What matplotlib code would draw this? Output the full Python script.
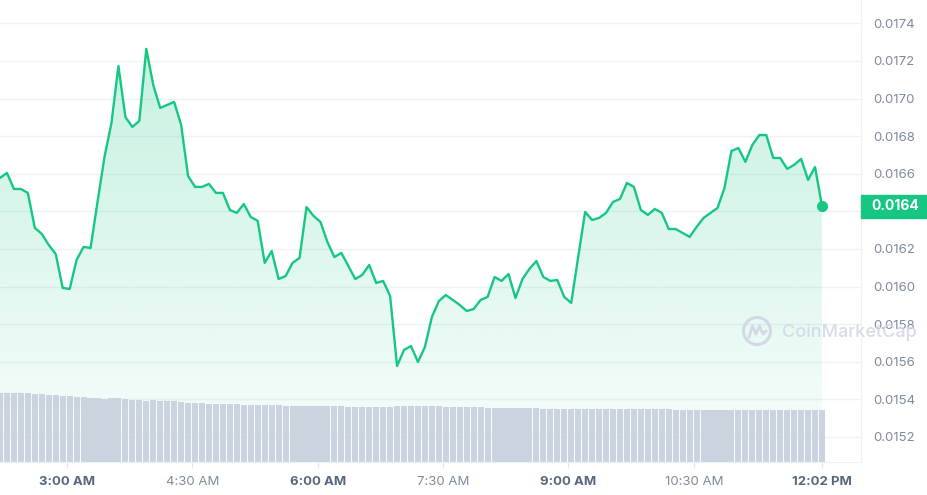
import matplotlib

matplotlib.use("Agg")
import matplotlib.pyplot as plt
import numpy as np
from matplotlib.colors import to_rgb
from matplotlib.patches import Ellipse, Rectangle
from matplotlib.lines import Line2D

# price samples every 5 minutes, first at 2:12 AM (minutes after midnight)
start_minute = 132
step_minutes = 5
prices = [
    0.016578, 0.016604, 0.016519, 0.016519, 0.016498, 0.016312, 0.016280, 0.016221,
    0.016173, 0.015993, 0.015987, 0.016142, 0.016211, 0.016205, 0.016450, 0.016689,
    0.016870, 0.017173, 0.016902, 0.016849, 0.016881, 0.017264, 0.017072, 0.016950,
    0.016966, 0.016982, 0.016860, 0.016588, 0.016530, 0.016530, 0.016546, 0.016498,
    0.016498, 0.016407, 0.016392, 0.016439, 0.016370, 0.016349, 0.016126, 0.016189,
    0.016040, 0.016056, 0.016126, 0.016152, 0.016423, 0.016376, 0.016344, 0.016237,
    0.016157, 0.016179, 0.016110, 0.016040, 0.016062, 0.016115, 0.016019, 0.016030,
    0.015950, 0.015578, 0.015663, 0.015684, 0.015599, 0.015679, 0.015838, 0.015923,
    0.015955, 0.015929, 0.015902, 0.015870, 0.015881, 0.015929, 0.015945, 0.016051,
    0.016030, 0.016067, 0.015939, 0.016040, 0.016094, 0.016136, 0.016051, 0.016030,
    0.016035, 0.015945, 0.015913, 0.016157, 0.016397, 0.016354, 0.016365, 0.016392,
    0.016450, 0.016466, 0.016551, 0.016530, 0.016407, 0.016381, 0.016413, 0.016392,
    0.016306, 0.016306, 0.016285, 0.016264, 0.016317, 0.016365, 0.016392, 0.016418,
    0.016524, 0.016721, 0.016737, 0.016663, 0.016753, 0.016806, 0.016806, 0.016684,
    0.016684, 0.016626, 0.016647, 0.016679, 0.016567, 0.016636, 0.016429,
]

# rolling volume (arbitrary units, millions)
volumes = (
    [13.74] * 5 + [13.54] * 2 + [13.34] * 2 + [13.14] * 2 + [12.94] * 2 + [12.74] * 2
    + [12.54] + [12.74] * 2 + [12.54] + [12.34] * 2 + [12.14] + [12.34]
    + [12.14] * 3 + [11.94] + [11.74] * 3 + [11.54] * 5 + [11.34] * 6 + [11.14] * 3
    + [11.2] * 6 + [11.0] * 7 + [11.2] * 7 + [11.0] * 6 + [10.74] * 8 + [10.54] * 19
    + [10.34] * 22
)

tick_minutes = [180, 270, 360, 450, 540, 630, 722]
tick_labels = ["3:00 AM", "4:30 AM", "6:00 AM", "7:30 AM", "9:00 AM", "10:30 AM", "12:02 PM"]
tick_bold = [True, False, True, False, True, False, True]
price_ticks = [0.0152, 0.0154, 0.0156, 0.0158, 0.0160, 0.0162,
               0.0164, 0.0166, 0.0168, 0.0170, 0.0172, 0.0174]
current_label = "0.0164"

GREEN = "#16c784"
GRID = "#eff2f5"
TEXT_GRAY = "#808a9d"
TEXT_DARK = "#58667e"
BAR = "#cbd2e0"

plt.rcParams["font.family"] = ["Inter", "DejaVu Sans"]

minutes = start_minute + step_minutes * np.arange(len(prices))
y_lo, y_hi = 0.015067, 0.017524
x_lo, x_hi = start_minute, 750

W, H = 928, 495
fig = plt.figure(figsize=(W / 100, H / 100), dpi=100)
fig.patch.set_facecolor("white")
rect = [0, 1 - 462 / H, 861 / W, 462 / H]
ax = fig.add_axes(rect, zorder=1)
axv = fig.add_axes(rect, zorder=2)
axv.patch.set_visible(False)
axv.axis("off")

# gradient area under price line
poly = ax.fill_between(minutes, prices, y_lo, color="none", lw=0)
rgb = to_rgb(GREEN)
grad = np.zeros((256, 1, 4))
grad[:, 0, :3] = rgb
grad[:, 0, 3] = np.linspace(0.27, 0.03, 256)
img = ax.imshow(grad, extent=[x_lo, x_hi, y_lo, y_hi], aspect="auto",
                origin="upper", zorder=1)
img.set_clip_path(poly.get_paths()[0], transform=ax.transData)

ax.plot(minutes, prices, color=GREEN, lw=1.7, zorder=3, solid_joinstyle="round")
ax.plot(minutes[-1], prices[-1], "o", color=GREEN, ms=7, zorder=4)

ax.set_xlim(x_lo, x_hi)
ax.set_ylim(y_lo, y_hi)
for p in price_ticks:
    ax.axhline(p, color=GRID, lw=1, zorder=0)

# the current-price tag sits over its own tick, so that tick keeps no label
ax.yaxis.tick_right()
ax.set_yticks(price_ticks)
ax.set_yticklabels(["" if f"{p:.4f}" == current_label else f"{p:.4f}" for p in price_ticks])
ax.tick_params(axis="y", length=0, pad=8.5, labelsize=9.5, labelcolor=TEXT_GRAY)
ax.set_xticks(tick_minutes)
ax.set_xticklabels(tick_labels)
ax.tick_params(axis="x", length=4, width=0.8, color="#e3e6ec", pad=6, labelsize=9.5)
for lbl, bold in zip(ax.get_xticklabels(), tick_bold):
    lbl.set_fontweight("bold" if bold else "normal")
    lbl.set_color(TEXT_DARK if bold else TEXT_GRAY)

for side in ["left", "top"]:
    ax.spines[side].set_visible(False)
ax.spines["right"].set_color(GRID)
ax.spines["bottom"].set_color(GRID)

# volume bars
axv.bar(minutes, volumes, width=4.4, color=BAR, lw=0)
axv.set_xlim(x_lo, x_hi)
axv.set_ylim(0, 92.4)

# current price tag
fig.add_artist(Rectangle((861 / W, 1 - 218 / H), 67 / W, 23 / H,
                         transform=fig.transFigure, color=GREEN, zorder=5))
fig.text(895 / W, 1 - 206.5 / H, current_label, color="white", fontsize=10,
         fontweight="bold", ha="center", va="center", zorder=6)

# watermark
wm = "#d3d8e6"
fig.add_artist(Ellipse((757 / W, 1 - 331 / H), 27 / W, 27 / H, transform=fig.transFigure,
                       fill=False, ec=wm, lw=2.2, zorder=7))
wx = np.array([749, 752.5, 756, 759.5, 763, 766])
wy = np.array([337, 326, 334, 326, 334, 331])
fig.add_artist(Line2D(wx / W, 1 - wy / H, transform=fig.transFigure,
                      color=wm, lw=2.0, zorder=7))
fig.text(782 / W, 1 - 332 / H, "CoinMarketCap", color=wm, fontsize=13,
         fontweight="medium", ha="left", va="center", zorder=7, alpha=0.9)

fig.savefig("out.png", dpi=100)
